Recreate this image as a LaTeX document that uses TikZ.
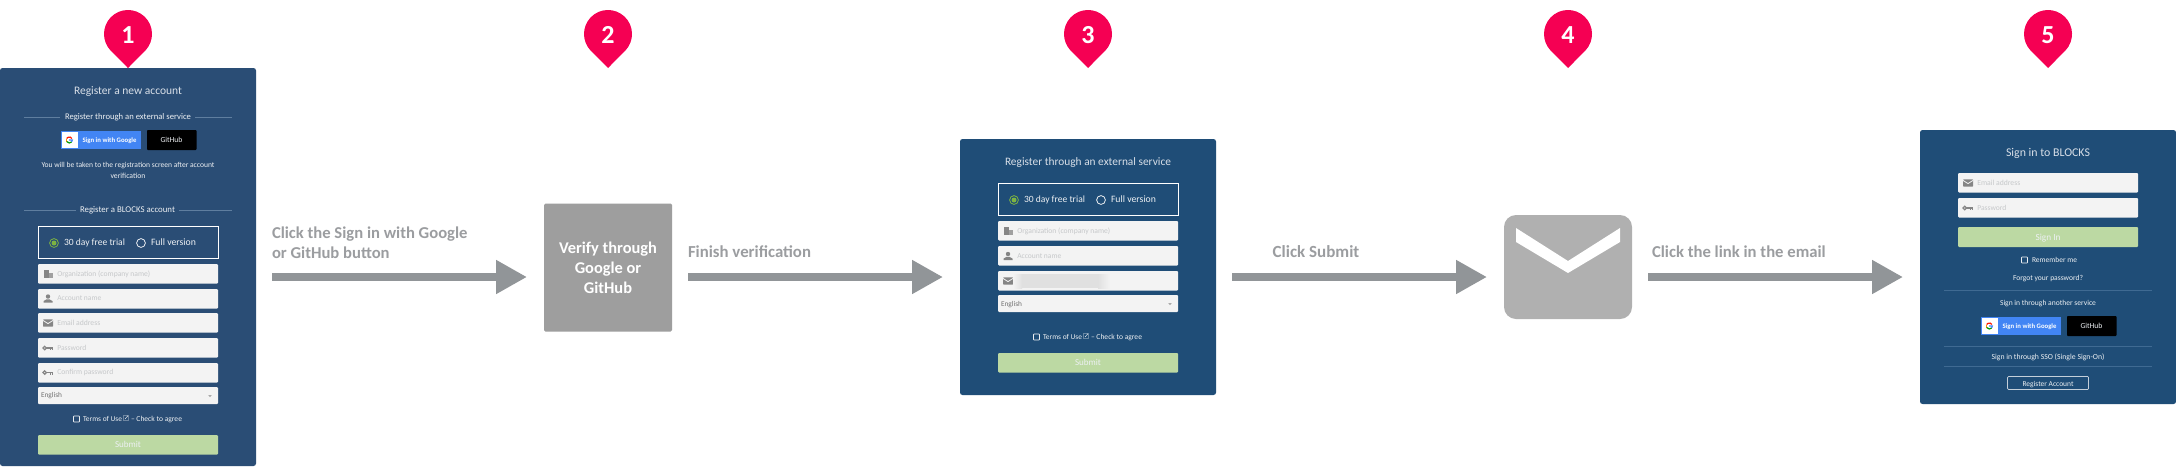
\documentclass[tikz,border=0pt]{standalone}
\usepackage{fontspec}
\setmainfont{Carlito}
\usetikzlibrary{arrows.meta,calc}
\definecolor{pinc}{HTML}{F50053}
\definecolor{panelA}{HTML}{2A4D75}
\definecolor{panelB}{HTML}{1F4D77}
\definecolor{flowc}{HTML}{919598}
\definecolor{labelc}{HTML}{9B9DA0}
\definecolor{boxc}{HTML}{9E9E9E}
\definecolor{mailc}{HTML}{B0B0B0}
\definecolor{inputc}{HTML}{F3F3F3}
\definecolor{placec}{HTML}{C6C8CA}
\definecolor{iconc}{HTML}{858585}
\definecolor{greenb}{HTML}{BCD9A3}
\definecolor{radioc}{HTML}{7CB342}
\definecolor{titlec}{HTML}{D8DFE8}
\definecolor{softc}{HTML}{EDF0F3}
\definecolor{rulec}{HTML}{5F7E9F}
\definecolor{ruled}{HTML}{3F6A92}
\definecolor{gblue}{HTML}{4285F4}
\newlength\tmpw
\newcounter{tn}
% computes \sz so that text #3 in font switches #2 is #1 wide
\newcommand\fitsz[3]{\pgfinterruptpicture\settowidth\tmpw{\fontsize{10}{12}\selectfont #2#3}\global\tmpw=\tmpw\endpgfinterruptpicture\pgfmathsetmacro\sz{10*#1/\tmpw}}
% x, y, anchor, target width, font switch, colour, text
\newcommand\T[7]{\fitsz{#4}{#5}{#7}\stepcounter{tn}%
  \node[txt,anchor=#3,text=#6,font=\fontsize{\sz}{\sz}\selectfont#5] (t\number\value{tn}) at (#1,#2) {#7};}
\newcommand\field[4]{\path[fieldbox,fill=#4] (#1,#2) rectangle ++(180,#3);}
\newcommand\mailicon[2]{\fill[iconc,rounded corners=0.6pt] (#1-5,#2-3.6) rectangle (#1+5,#2+3.6);
  \draw[inputc,line width=0.8pt] (#1-5,#2-2.6) -- (#1,#2+0.6) -- (#1+5,#2-2.6);}
\newcommand\keyicon[2]{\draw[iconc,line width=1.2pt] (#1-3.3,#2) circle[radius=1.7pt];
  \draw[iconc,line width=1.3pt] (#1-1.6,#2) -- (#1+5,#2);
  \draw[iconc,line width=1pt] (#1+2,#2) -- (#1+2,#2+2) (#1+4,#2) -- (#1+4,#2+2);}
\newcommand\personicon[2]{\fill[iconc] (#1,#2-2) circle[radius=2.2pt];
  \fill[iconc] (#1-4.5,#2+4) -- (#1-4.5,#2+2.6) -- (#1-1.5,#2+0.8) -- (#1+1.5,#2+0.8) -- (#1+4.5,#2+2.6) -- (#1+4.5,#2+4) -- cycle;}
\newcommand\orgicon[2]{\fill[iconc] (#1-4.5,#2-4) rectangle (#1+0.5,#2+4);
  \fill[iconc,opacity=.75] (#1+0.5,#2-1.5) rectangle (#1+4.5,#2+4);}
\newcommand\radiogroup[2]{\draw[white,line width=.8pt] (#1,#2) rectangle ++(180,32.5);
  \draw[radioc,line width=.8pt] (#1+16,#2+17) circle[radius=4.4pt];
  \fill[radioc] (#1+16,#2+17) circle[radius=2.5pt];
  \T{#1+26}{#2+17}{mid west}{61}{}{softc}{30 day free trial}
  \draw[softc,line width=.8pt] (#1+103,#2+17) circle[radius=4.4pt];
  \T{#1+113}{#2+17}{mid west}{45}{}{softc}{Full version}}
\newcommand\terms[2]{\draw[softc,line width=.6pt,rounded corners=.6pt] (#1-54.5,#2-3) rectangle (#1-48.5,#2+3);
  \T{#1-45}{#2+0.5}{mid west}{39}{}{softc}{Terms of Use}
  \draw[softc,line width=.45pt] (#1-4.5,#2-3.5) rectangle (#1+0.5,#2+1.5) (#1-3,#2) -- (#1-0.3,#2-3);
  \T{#1+3}{#2}{mid west}{51}{}{softc}{– Check to agree}}
\newcommand\caret[2]{\fill[iconc!70] (#1-1.8,#2-1) -- (#1+1.8,#2-1) -- (#1,#2+1.2) -- cycle;}
\newcommand\gicon[2]{\draw[red!80!orange,line width=1.2pt] (#1,#2) ++(30:3pt) arc[start angle=30,end angle=150,radius=3pt];
  \draw[orange!90!yellow,line width=1.2pt] (#1,#2) ++(150:3pt) arc[start angle=150,end angle=210,radius=3pt];
  \draw[green!60!black,line width=1.2pt] (#1,#2) ++(210:3pt) arc[start angle=210,end angle=320,radius=3pt];
  \draw[gblue,line width=1.2pt] (#1,#2) ++(320:3pt) arc[start angle=320,end angle=360,radius=3pt] -- (#1-0.2,#2);}
% left x, top y of Google button
\newcommand\oauth[2]{\fill[gblue] (#1,#2) rectangle ++(80,17.5);
  \fill[white] (#1+.6,#2+.6) rectangle (#1+17,#2+16.9);
  \gicon{#1+8.3}{#2+9}
  \T{#1+21.5}{#2+9}{mid west}{54}{\bfseries}{white}{Sign in with Google}
  \fill[black,rounded corners=.8pt] (#1+86,#2-1) rectangle ++(49.5,20);
  \T{#1+110.5}{#2+9.3}{mid}{22}{}{softc}{GitHub}}
% centre x, y, width, pin number
\newcommand\pin[2]{\fill[pinc] (#1,34) ++(-43.3:24pt) arc[start angle=-43.3,end angle=223.3,radius=24pt] -- (#1,68) -- cycle;
  \stepcounter{tn}\node[txt,text=white,font=\fontsize{26}{26}\selectfont\bfseries] (pn#2) at (#1,35) {#2};}
\tikzset{
  txt/.style={inner sep=0pt,outer sep=0pt},
  panel/.style={rounded corners=2.5pt,inner sep=0pt,minimum width=256pt},
  fieldbox/.style={rounded corners=1pt},
  flow/.style={flowc,line width=8pt,-{Triangle[length=31pt,width=32pt]}},
  steplabel/.style={txt,text=labelc,anchor=mid west,align=left},
}
\begin{document}
\begin{tikzpicture}[x=1pt,y=-1pt]
\useasboundingbox (0,0) rectangle (2176,467);
\fill[white] (0,0) rectangle (2176,467);
% panels and main nodes
\node[panel,fill=panelA,minimum height=398pt] (panelone) at (128,267) {};
\node[panel,fill=panelB,minimum height=256pt] (panelthree) at (1088,267) {};
\node[panel,fill=panelB,minimum height=274pt] (panelfive) at (2048,267) {};
\fitsz{98}{\bfseries}{Verify through}
\node[inner sep=0pt,minimum width=128pt,minimum height=128pt,fill=boxc,rounded corners=1.5pt,text=white,align=center,
  font=\fontsize{\sz}{20}\selectfont\bfseries] (verify) at (608,267.5) {Verify through\\Google or\\GitHub};
\node[inner sep=0pt,minimum width=128pt,minimum height=104pt,fill=mailc,rounded corners=12pt] (mail) at (1568,267) {};
\fill[white] (1516,228) -- (1568,261) -- (1620,228) -- (1620,242) -- (1568,273) -- (1516,242) -- cycle;
% pins
\pin{128}{1}\pin{608}{2}\pin{1088}{3}\pin{1568}{4}\pin{2048}{5}
% flow arrows
\coordinate (aOs) at (272,277); \coordinate (aOe) at (527,277);
\coordinate (aTs) at (688,277); \coordinate (aTe) at (943,277);
\coordinate (aHs) at (1232,277); \coordinate (aHe) at (1487,277);
\coordinate (aFs) at (1648,277); \coordinate (aFe) at (1903,277);
\draw[flow] (aOs) -- (aOe);
\draw[flow] (aTs) -- (aTe);
\draw[flow] (aHs) -- (aHe);
\draw[flow] (aFs) -- (aFe);
% flow labels
\fitsz{195.5}{\bfseries}{Click the Sign in with Google}
\node[steplabel,font=\fontsize{\sz}{20}\selectfont\bfseries,anchor=north west] (labone) at (272,226.5) {Click the Sign in with Google\\or GitHub button};
\T{688}{255}{mid west}{123}{\bfseries}{labelc}{Finish verification}
\T{1272.7}{255}{mid west}{86.6}{\bfseries}{labelc}{Click Submit}
\T{1652}{255}{mid west}{173.7}{\bfseries}{labelc}{Click the link in the email}
%% PANEL 1
\T{128}{92}{mid}{108}{}{titlec}{Register a new account}
\T{128}{117.5}{mid}{126}{}{softc}{Register through an external service}
\draw[rulec,line width=.6pt] (24,117) -- (60,117) (195,117) -- (232,117);
\oauth{61}{131}
\T{128}{165}{mid}{173}{}{softc}{You will be taken to the registration screen after account}
\T{128}{176}{mid}{35}{}{softc}{verification}
\T{127.5}{210.5}{mid}{95}{}{softc}{Register a BLOCKS account}
\draw[rulec,line width=.6pt] (24,210) -- (76,210) (179,210) -- (232,210);
\radiogroup{38}{226}
\field{38}{264}{19.5}{inputc}
\field{38}{289}{19.5}{inputc}
\field{38}{313}{19.5}{inputc}
\field{38}{338}{19.5}{inputc}
\field{38}{363}{19.5}{inputc}
\field{38}{387}{17}{inputc}
\orgicon{48}{274}\personicon{48}{298.5}\mailicon{48}{323}\keyicon{48}{348}\keyicon{48}{372.5}
\T{57.3}{274}{mid west}{93}{}{placec}{Organization (company name)}
\T{57.3}{298.5}{mid west}{44}{}{placec}{Account name}
\T{57.3}{323}{mid west}{43}{}{placec}{Email address}
\T{57.3}{348}{mid west}{29}{}{placec}{Password}
\T{57.3}{372.5}{mid west}{56}{}{placec}{Confirm password}
\T{41}{395.5}{mid west}{21}{}{iconc!85!black}{English}
\caret{210}{396}
\terms{128}{419}
\path[fieldbox,fill=greenb] (38,435) rectangle (218,454.5);
\T{128}{445}{mid}{26}{}{softc}{Submit}
%% PANEL 3
\T{1088}{163.5}{mid}{166}{}{titlec}{Register through an external service}
\radiogroup{998}{183}
\field{998}{221}{19.5}{inputc}
\field{998}{246}{19.5}{inputc}
\field{998}{271}{19.5}{inputc}
\field{998}{295}{17}{inputc}
\orgicon{1008}{231}\personicon{1008}{256}\mailicon{1008}{281}
\T{1017.3}{231}{mid west}{93}{}{placec}{Organization (company name)}
\T{1017.3}{256}{mid west}{44}{}{placec}{Account name}
\shade[left color=inputc,right color=black!12] (1013,274) rectangle (1022,288);
\fill[black!12] (1022,274) rectangle (1098,288);
\shade[left color=black!12,right color=inputc] (1098,274) rectangle (1110,288);
\T{1001}{304}{mid west}{21}{}{iconc!85!black}{English}
\caret{1170}{304}
\terms{1088}{337}
\path[fieldbox,fill=greenb] (998,353) rectangle (1178,372.5);
\T{1088}{363}{mid}{26}{}{softc}{Submit}
%% PANEL 5
\T{2048}{154}{mid}{84}{}{titlec}{Sign in to BLOCKS}
\field{1958}{173}{19.5}{inputc}
\field{1958}{198}{19.5}{inputc}
\mailicon{1968}{183}\keyicon{1968}{208}
\T{1977.3}{183}{mid west}{43}{}{placec}{Email address}
\T{1977.3}{208}{mid west}{29}{}{placec}{Password}
\path[fieldbox,fill=greenb] (1958,227) rectangle (2138,247);
\T{2048}{238}{mid}{25}{}{softc}{Sign In}
\draw[softc,line width=.6pt,rounded corners=.6pt] (2021.5,257) rectangle (2027.5,263);
\T{2032}{260}{mid west}{45}{}{softc}{Remember me}
\T{2048}{278}{mid}{70}{}{softc}{Forgot your password?}
\draw[ruled,line width=.7pt] (1944,290) -- (2152,290);
\T{2048}{303.5}{mid}{96}{}{softc}{Sign in through another service}
\oauth{1981}{317}
\draw[ruled,line width=.7pt] (1944,346) -- (2152,346);
\T{2048}{357}{mid}{113}{}{softc}{Sign in through SSO (Single Sign-On)}
\draw[ruled,line width=.7pt] (1944,366) -- (2152,366);
\draw[softc!80!panelB,line width=.7pt,rounded corners=1pt] (2007.5,376.5) rectangle (2088.5,389.5);
\T{2048}{384}{mid}{51}{}{softc}{Register Account}
\end{tikzpicture}
\end{document}
